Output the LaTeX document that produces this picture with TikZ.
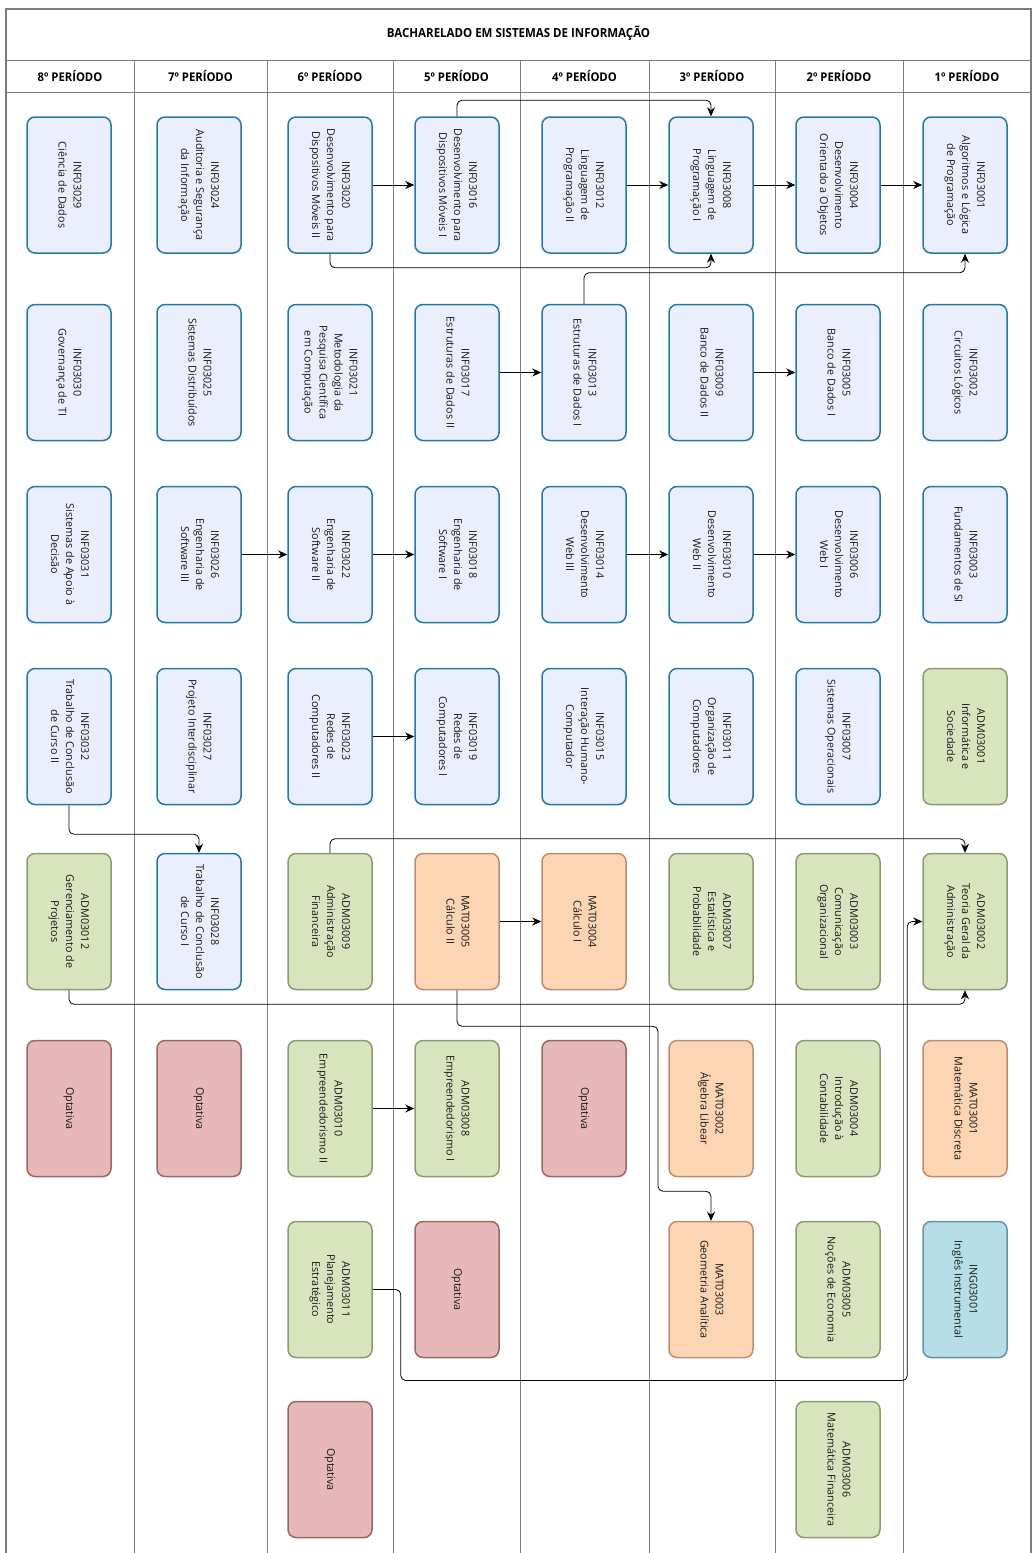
\documentclass[tikz,border=0pt]{standalone}
\usepackage{fontspec}
\setmainfont{Open Sans}
\usetikzlibrary{arrows.meta, positioning, calc}

\definecolor{infFill}{RGB}{235,239,253}
\definecolor{infLine}{RGB}{36,120,168}
\definecolor{admFill}{RGB}{215,228,189}
\definecolor{admLine}{RGB}{140,156,110}
\definecolor{matFill}{RGB}{252,213,181}
\definecolor{matLine}{RGB}{186,142,112}
\definecolor{optFill}{RGB}{230,185,184}
\definecolor{optLine}{RGB}{152,104,104}
\definecolor{ingFill}{RGB}{183,221,232}
\definecolor{ingLine}{RGB}{102,146,166}
\definecolor{gridLine}{RGB}{125,125,125}

\begin{document}
\begin{tikzpicture}[x=1pt, y=-1pt,
    course/.style={rounded corners=8pt, line width=1.5pt, minimum width=84pt,
        minimum height=136pt, inner sep=0pt, text=black!90,
        font=\fontsize{10.8}{15}\selectfont},
    inf/.style={course, draw=infLine, fill=infFill},
    adm/.style={course, draw=admLine, fill=admFill},
    mat/.style={course, draw=matLine, fill=matFill},
    opt/.style={course, draw=optLine, fill=optFill},
    ing/.style={course, draw=ingLine, fill=ingFill},
    conn/.style={-{Stealth[length=9pt,width=8pt]}, line width=0.8pt, rounded corners=5pt},
    grid/.style={draw=gridLine, line width=1pt}]
    \useasboundingbox (0,0) rectangle (1036,1553);

    % Frame, title and period headers
    \draw[grid, line width=1.2pt] (6,1560) -- (6,9) -- (1031,9) -- (1031,1560);
    \draw[grid] (6,60) -- (1031,60);
    \draw[grid] (6,92) -- (1031,92);
    \foreach \sx in {134,267,393,520,649,775,903} {
        \draw[grid] (\sx,60) -- (\sx,1560);
    }
    \node[font=\bfseries\fontsize{12.5}{14}\selectfont] (title) at (518.5,33)
        {\scalebox{0.92}[1]{BACHARELADO EM SISTEMAS DE INFORMAÇÃO}};
    \foreach \p [count=\i] in {8,...,1} {
        \pgfmathsetmacro{\hx}{{70,200.5,330,456.5,584.5,712,839,967}[\i-1]}
        \node[font=\bfseries\fontsize{12}{14}\selectfont] (head\p) at (\hx,76)
            {\scalebox{0.94}[1]{{\p}º PERÍODO}};
    }

    % Courses: name / period / row / kind / text
    \foreach \name/\p/\r/\kind/\txt in {
        inf3029/8/1/inf/{INF03029\\Ciência de Dados},
        inf3030/8/2/inf/{INF03030\\Governança de TI},
        inf3031/8/3/inf/{INF03031\\Sistemas de Apoio à\\Decisão},
        inf3032/8/4/inf/{INF03032\\Trabalho de Conclusão\\de Curso II},
        adm3012/8/5/adm/{ADM03012\\Gerenciamento de\\Projetos},
        opt8/8/6/opt/{Optativa},
        inf3024/7/1/inf/{INF03024\\Auditoria e Segurança\\da Informação},
        inf3025/7/2/inf/{INF03025\\Sistemas Distribuídos},
        inf3026/7/3/inf/{INF03026\\Engenharia de\\Software III},
        inf3027/7/4/inf/{INF03027\\Projeto Interdisciplinar},
        inf3028/7/5/inf/{INF03028\\Trabalho de Conclusão\\de Curso I},
        opt7/7/6/opt/{Optativa},
        inf3020/6/1/inf/{INF03020\\Desenvolvimento para\\Dispositivos Móveis II},
        inf3021/6/2/inf/{INF03021\\Metodologia da\\Pesquisa Científica\\em Computação},
        inf3022/6/3/inf/{INF03022\\Engenharia de\\Software II},
        inf3023/6/4/inf/{INF03023\\Redes de\\Computadores II},
        adm3009/6/5/adm/{ADM03009\\Administração\\Financeira},
        adm3010/6/6/adm/{ADM03010\\Empreendedorismo II},
        adm3011/6/7/adm/{ADM03011\\Planejamento\\Estratégico},
        opt6/6/8/opt/{Optativa},
        inf3016/5/1/inf/{INF03016\\Desenvolvimento para\\Dispositivos Móveis I},
        inf3017/5/2/inf/{INF03017\\Estruturas de Dados II},
        inf3018/5/3/inf/{INF03018\\Engenharia de\\Software I},
        inf3019/5/4/inf/{INF03019\\Redes de\\Computadores I},
        mat3005/5/5/mat/{MAT03005\\Cálculo II},
        adm3008/5/6/adm/{ADM03008\\Empreendedorismo I},
        opt5/5/7/opt/{Optativa},
        inf3012/4/1/inf/{INF03012\\Linguagem de\\Programação II},
        inf3013/4/2/inf/{INF03013\\Estruturas de Dados I},
        inf3014/4/3/inf/{INF03014\\Desenvolvimento\\Web III},
        inf3015/4/4/inf/{INF03015\\Interação Humano-\\Computador},
        mat3004/4/5/mat/{MAT03004\\Cálculo I},
        opt4/4/6/opt/{Optativa},
        inf3008/3/1/inf/{INF03008\\Linguagem de\\Programação I},
        inf3009/3/2/inf/{INF03009\\Banco de Dados II},
        inf3010/3/3/inf/{INF03010\\Desenvolvimento\\Web II},
        inf3011/3/4/inf/{INF03011\\Organização de\\Computadores},
        adm3007/3/5/adm/{ADM03007\\Estatística e\\Probabilidade},
        mat3002/3/6/mat/{MAT03002\\Álgebra Libear},
        mat3003/3/7/mat/{MAT03003\\Geometria Analítica},
        inf3004/2/1/inf/{INF03004\\Desenvolvimento\\Orientado a Objetos},
        inf3005/2/2/inf/{INF03005\\Banco de Dados I},
        inf3006/2/3/inf/{INF03006\\Desenvolvimento\\Web I},
        inf3007/2/4/inf/{INF03007\\Sistemas Operacionais},
        adm3003/2/5/adm/{ADM03003\\Comunicação\\Organizacional},
        adm3004/2/6/adm/{ADM03004\\Introdução à\\Contabilidade},
        adm3005/2/7/adm/{ADM03005\\Noções de Economia},
        adm3006/2/8/adm/{ADM03006\\Matemática Financeira},
        inf3001/1/1/inf/{INF03001\\Algoritmos e Lógica\\de Programação},
        inf3002/1/2/inf/{INF03002\\Circuitos Lógicos},
        inf3003/1/3/inf/{INF03003\\Fundamentos de SI},
        adm3001/1/4/adm/{ADM03001\\Informática e\\Sociedade},
        adm3002/1/5/adm/{ADM03002\\Teoria Geral da\\Administração},
        mat3001/1/6/mat/{MAT03001\\Matemática Discreta},
        ing3001/1/7/ing/{ING03001\\Inglês Instrumental}} {
        \pgfmathsetmacro{\cx}{{69,199,330,457,584,711,838,965}[8-\p]}
        \pgfmathsetmacro{\cy}{{185,372.5,554.5,736.5,921.5,1108.5,1289.5,1469.5}[\r-1]}
        \node[\kind] (\name) at (\cx,\cy)
            {\rotatebox{-90}{\begin{tabular}{@{}c@{}}\txt\end{tabular}}};
    }

    % Straight prerequisites
    \foreach \a/\b in {inf3020/inf3016, inf3012/inf3008, inf3008/inf3004, inf3004/inf3001,
                       inf3017/inf3013, inf3009/inf3005, inf3026/inf3022, inf3022/inf3018,
                       inf3014/inf3010, inf3010/inf3006, inf3023/inf3019, mat3005/mat3004,
                       adm3010/adm3008} {
        \draw[conn] (\a.east) -- (\b.west);
    }

    % Routed prerequisites
    \draw[conn] (inf3016.north) -- ++(0,-16) -| (inf3008.north);
    \draw[conn] (inf3020.south) -- ++(0,14) -| (inf3008.south);
    \draw[conn] (inf3013.north) -- ++(0,-31) -| (inf3001.south);
    \draw[conn] (inf3032.south) -- ++(0,29) -| (inf3028.north);
    \draw[conn] (adm3009.north) -- ++(0,-14) -| (adm3002.north);
    \draw[conn] (adm3012.south) -- ++(0,14) -| (adm3002.south);
    \draw[conn] (mat3005.south) -- ++(0,36) -| ++(201,165) -| (mat3003.north);
    \draw[conn] (adm3011.east) -| ++(28,91) -| ([xshift=-15pt]adm3002.west) -- (adm3002.west);
\end{tikzpicture}
\end{document}
